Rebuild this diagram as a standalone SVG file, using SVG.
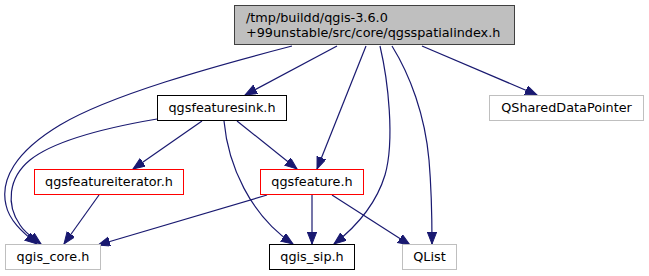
<svg xmlns="http://www.w3.org/2000/svg" width="649" height="276" viewBox="0 0 649 276">
  <style>
    .node rect { fill: #ffffff; stroke-width: 1; }
    .node text { font-family: "DejaVu Sans", sans-serif; font-size: 12.8px; fill: #000000; }
    .node text.c { text-anchor: middle; }
    .root rect { fill: #bfbfbf; stroke: #404040; }
    .plain rect { stroke: #000000; }
    .red rect { stroke: #ff0000; }
    .ext rect { stroke: #bfbfbf; }
    #edges path { fill: none; stroke: #191970; stroke-width: 1.2; marker-end: url(#arrow); }
  </style>
  <defs>
    <marker id="arrow" markerUnits="userSpaceOnUse" markerWidth="13" markerHeight="11" refX="12" refY="4.7" orient="auto">
      <path d="M0,0 L12,4.7 L0,9.4 z" fill="#191970" stroke="#191970" stroke-width="1"/>
    </marker>
  </defs>
  <rect width="649" height="276" fill="#ffffff"/>

  <g id="edges">
    <path d="M337,46 L245,95"/>
    <path d="M292,46 C215,66 110,95 60,125 C15,152 0,180 6,205 C9,220 22,232 37,244"/>
    <path d="M366,46 L317,169"/>
    <path d="M380,46 C388,80 395,140 385,175 C375,208 352,230 334,244"/>
    <path d="M392,46 C410,75 425,115 429,160 C432,195 432,225 432,244"/>
    <path d="M422,46 L537,95"/>
    <path d="M202,121 L133,169"/>
    <path d="M237,121 L297,169"/>
    <path d="M224,121 C228,165 250,215 293,244"/>
    <path d="M157,119 C110,127 55,140 30,160 C8,178 6,205 20,225 C25,233 33,238 41,244"/>
    <path d="M99,195 L64,244"/>
    <path d="M267,195 L98,245"/>
    <path d="M312,195 L312,244"/>
    <path d="M332,195 L410,245"/>
  </g>

  <g id="node-qgsspatialindex" class="node root">
    <rect x="234.5" y="5.5" width="280" height="39"/>
    <text x="246" y="22">/tmp/buildd/qgis-3.6.0</text>
    <text x="246" y="37">+99unstable/src/core/qgsspatialindex.h</text>
  </g>
  <g id="node-qgsfeaturesink" class="node plain">
    <rect x="157.5" y="95.5" width="129" height="25"/>
    <text class="c" x="222" y="112">qgsfeaturesink.h</text>
  </g>
  <g id="node-qshareddatapointer" class="node ext">
    <rect x="489.5" y="95.5" width="154" height="25"/>
    <text class="c" x="566.5" y="112">QSharedDataPointer</text>
  </g>
  <g id="node-qgsfeatureiterator" class="node red">
    <rect x="34.5" y="169.5" width="149" height="25"/>
    <text class="c" x="109" y="186">qgsfeatureiterator.h</text>
  </g>
  <g id="node-qgsfeature" class="node red">
    <rect x="260.5" y="169.5" width="103" height="25"/>
    <text class="c" x="312" y="186">qgsfeature.h</text>
  </g>
  <g id="node-qgis-core" class="node ext">
    <rect x="5.5" y="244.5" width="95" height="25"/>
    <text class="c" x="53" y="261">qgis_core.h</text>
  </g>
  <g id="node-qgis-sip" class="node plain">
    <rect x="269.5" y="244.5" width="85" height="25"/>
    <text class="c" x="312" y="261">qgis_sip.h</text>
  </g>
  <g id="node-qlist" class="node ext">
    <rect x="402.5" y="244.5" width="54" height="25"/>
    <text class="c" x="429.5" y="261">QList</text>
  </g>
</svg>
